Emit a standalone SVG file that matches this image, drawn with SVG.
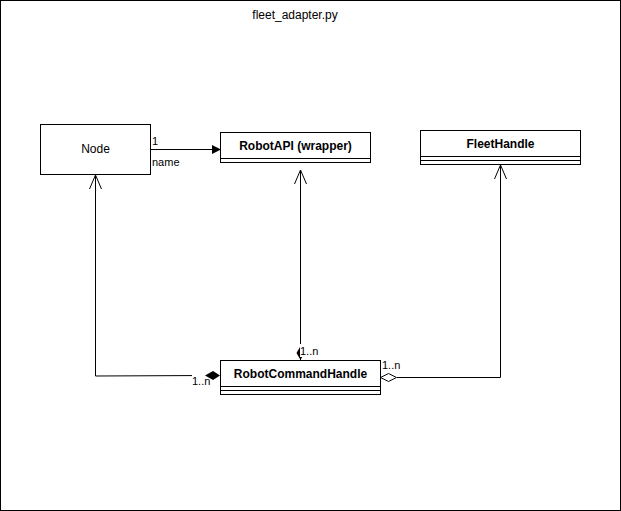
<svg xmlns="http://www.w3.org/2000/svg" width="621" height="511" viewBox="0 0 621 511">
<style>
.box{fill:#fff;stroke:#000;stroke-width:1}
.ln{fill:none;stroke:#000;stroke-width:1}
.t{font-family:"Liberation Sans",Arial,sans-serif;font-size:12px;fill:#000;text-anchor:middle}
.b{font-weight:bold}
.lbl{font-family:"Liberation Sans",Arial,sans-serif;font-size:11px;fill:#000}
</style>
<rect x="0.5" y="0.5" width="620" height="510" fill="#fff" stroke="#000"/>
<text class="t" x="295" y="19">fleet_adapter.py</text>
<g id="connectors">
  <g id="c-node-api">
    <path class="ln" d="M150,149.5 H212"/>
    <path d="M221,149.5 L212,145 L212,154 Z" fill="#000"/>
    <text class="lbl" x="152" y="145">1</text>
    <text class="lbl" x="152" y="166">name</text>
  </g>
  <g id="c-rch-api">
    <path class="ln" d="M300.5,360 V170"/>
    <path class="ln" d="M294.5,184 L300.5,170 L306.5,184"/>
    <path d="M300.5,360 L296.5,353 L300.5,346 L304.5,353 Z" fill="#000"/>
    <rect x="300" y="344" width="18" height="13" fill="#fff"/>
    <text class="lbl" x="300" y="355">1..n</text>
  </g>
  <g id="c-rch-node">
    <path class="ln" d="M95.5,176 V376 L206,375.5"/>
    <path class="ln" d="M89.5,189 L95.5,175 L101.5,189"/>
    <rect x="192" y="370" width="15" height="18" fill="#fff"/>
    <text class="lbl" x="192" y="385">1..n</text>
    <path d="M220,375.5 L213,371 L205,375.5 L213,380 Z" fill="#000"/>
  </g>
  <g id="c-rch-fleet">
    <path class="ln" d="M397,377.5 H500.5 V165"/>
    <path class="ln" d="M494.5,179 L500.5,165 L506.5,179"/>
    <path d="M380.5,377.5 L388.5,373.5 L396.5,377.5 L388.5,381.5 Z" fill="#fff" stroke="#000"/>
    <text class="lbl" x="382" y="369">1..n</text>
  </g>
</g>
<g id="node-Node">
  <rect class="box" x="40.5" y="124.5" width="110" height="50"/>
  <text class="t" x="95.5" y="153">Node</text>
</g>
<g id="node-RobotAPI">
  <rect class="box" x="220.5" y="132.5" width="150" height="30"/>
  <path class="ln" d="M220.5,158.5 H370.5"/>
  <text class="t b" x="295.5" y="150">RobotAPI (wrapper)</text>
</g>
<g id="node-FleetHandle">
  <rect class="box" x="420.5" y="130.5" width="160" height="34"/>
  <path class="ln" d="M420.5,156.5 H580.5 M420.5,160.5 H580.5"/>
  <text class="t b" x="500.5" y="148">FleetHandle</text>
</g>
<g id="node-RobotCommandHandle">
  <rect class="box" x="220.5" y="360.5" width="160" height="34"/>
  <path class="ln" d="M220.5,386.5 H380.5 M220.5,390.5 H380.5"/>
  <text class="t b" x="300.5" y="378">RobotCommandHandle</text>
</g>
</svg>
